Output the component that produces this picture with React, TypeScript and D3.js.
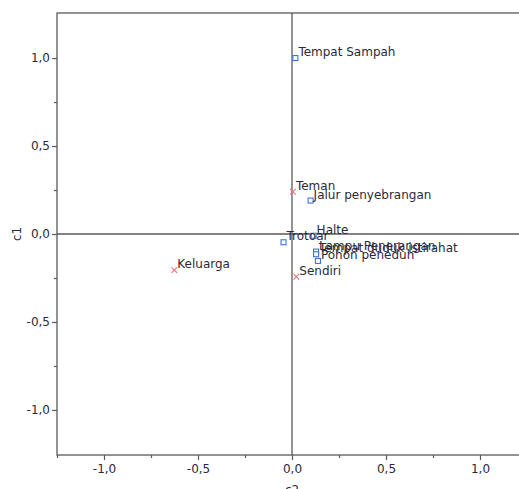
import React, { useRef, useEffect } from "react";
import * as d3 from "d3";

// category labels and their coordinates on the two dimensions
const labels = [
  "Tempat Sampah",
  "Jalur penyebrangan",
  "Halte",
  "Trotoar",
  "Lampu Penerangan",
  "Tempat duduk istirahat",
  "Pohon peneduh",
  "Teman",
  "Sendiri",
  "Keluarga",
];
const c2Values = [0.018, 0.099, 0.115, -0.045, 0.128, 0.128, 0.138, 0.005, 0.023, -0.626];
const c1Values = [1.0, 0.19, -0.01, -0.047, -0.1, -0.115, -0.153, 0.24, -0.243, -0.205];
const kinds = ["obj", "obj", "obj", "obj", "obj", "obj", "obj", "who", "who", "who"];

const majorTicks = [-1, -0.5, 0, 0.5, 1];
const minorTicks = [-1.25, -0.75, -0.25, 0.25, 0.75, 1.25];

const W = 519;
const H = 489;

export default function App() {
  const svgRef = useRef<SVGSVGElement>(null);

  useEffect(() => {
    if (!svgRef.current) return;
    const svg = d3.select(svgRef.current);
    svg.selectAll("*").remove();

    const x = d3.scaleLinear().domain([-1.25, 1.25]).range([57, 527]);
    const y = d3.scaleLinear().domain([-1.256, 1.256]).range([455, 13]);
    const fmt = (v: number) => d3.format(".1f")(v).replace(".", ",").replace("−", "-");
    const axisColor = "#5a5a5a";
    const font = "DejaVu Sans, Verdana, sans-serif";

    // frame
    svg.append("rect")
      .attr("x", x(-1.25)).attr("y", y(1.256))
      .attr("width", x(1.25) - x(-1.25)).attr("height", y(-1.256) - y(1.256))
      .attr("fill", "none").attr("stroke", axisColor).attr("stroke-width", 1.3);

    // zero lines
    svg.append("line")
      .attr("x1", x(-1.25)).attr("x2", x(1.25))
      .attr("y1", y(0)).attr("y2", y(0))
      .attr("stroke", axisColor).attr("stroke-width", 1.3);
    svg.append("line")
      .attr("x1", x(0)).attr("x2", x(0))
      .attr("y1", y(1.256)).attr("y2", y(-1.256))
      .attr("stroke", axisColor).attr("stroke-width", 1.3);

    const xAxis = d3.axisBottom(x).tickValues(majorTicks).tickSize(5).tickPadding(4)
      .tickFormat(d => fmt(d as number));
    const gx = svg.append("g").attr("transform", `translate(0,${y(-1.256)})`).call(xAxis);
    const xMinor = d3.axisBottom(x).tickValues(minorTicks).tickSize(3).tickFormat(() => "");
    svg.append("g").attr("transform", `translate(0,${y(-1.256)})`).call(xMinor)
      .call(g => g.select(".domain").remove());

    const yAxis = d3.axisLeft(y).tickValues(majorTicks).tickSize(5).tickPadding(2)
      .tickFormat(d => fmt(d as number));
    const gy = svg.append("g").attr("transform", `translate(${x(-1.25)},0)`).call(yAxis);
    const yMinor = d3.axisLeft(y).tickValues(minorTicks.filter(v => Math.abs(v) < 1.25)).tickSize(3).tickFormat(() => "");
    svg.append("g").attr("transform", `translate(${x(-1.25)},0)`).call(yMinor)
      .call(g => g.select(".domain").remove());

    svg.selectAll(".domain").remove();
    svg.selectAll(".tick line").attr("stroke", axisColor).attr("stroke-width", 1.2);
    [gx, gy].forEach(g => g.selectAll("text")
      .attr("fill", "#2a2a3a").style("font-family", font).style("font-size", "12px"));

    // axis titles
    svg.append("text")
      .attr("transform", `translate(21,${y(0)}) rotate(-90)`)
      .attr("text-anchor", "middle")
      .attr("fill", "#2a2a3a").style("font-family", font).style("font-size", "12px")
      .text("c1");
    svg.append("text")
      .attr("x", x(0)).attr("y", 494)
      .attr("text-anchor", "middle")
      .attr("fill", "#2a2a3a").style("font-family", font).style("font-size", "12px")
      .text("c2");

    const pts = labels.map((l, i) => ({ label: l, c2: c2Values[i], c1: c1Values[i], kind: kinds[i] }));

    // markers
    svg.selectAll(".sq")
      .data(pts.filter(d => d.kind === "obj"))
      .enter().append("rect")
      .attr("x", d => x(d.c2) - 2.5).attr("y", d => y(d.c1) - 2.5)
      .attr("width", 5).attr("height", 5)
      .attr("fill", "white").attr("stroke", "#3b74e0").attr("stroke-width", 1.1);

    const cross = svg.selectAll(".cr")
      .data(pts.filter(d => d.kind === "who"))
      .enter().append("g")
      .attr("transform", d => `translate(${x(d.c2)},${y(d.c1)})`);
    cross.append("path")
      .attr("d", "M-2.8,-2.8L2.8,2.8M-2.8,2.8L2.8,-2.8")
      .attr("stroke", "#e8707e").attr("stroke-width", 1.1);

    // labels
    svg.selectAll(".lbl")
      .data(pts)
      .enter().append("text")
      .attr("x", d => x(d.c2) + 3)
      .attr("y", d => y(d.c1) - 2)
      .attr("fill", "#2a2a3a")
      .style("font-family", font).style("font-size", "12px")
      .text(d => d.label);
  }, []);

  return (
    <svg
      ref={svgRef}
      width={W}
      height={H}
      style={{ position: "absolute", left: 0, top: 0, background: "white" }}
    />
  );
}
